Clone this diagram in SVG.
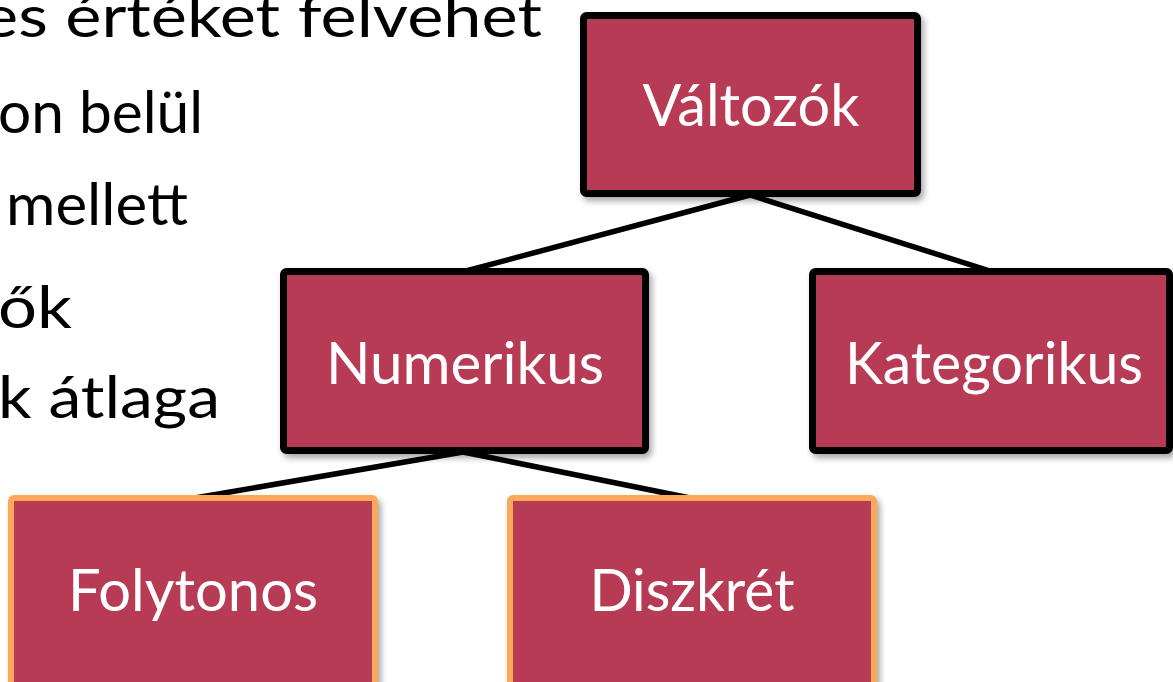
<svg xmlns="http://www.w3.org/2000/svg" width="1173" height="682" viewBox="0 0 1173 682">
  <defs>
    <filter id="shadow" x="-10%" y="-10%" width="125%" height="125%">
      <feDropShadow dx="3" dy="4" stdDeviation="3" flood-color="#000" flood-opacity="0.35"/>
    </filter>
  </defs>
  <style>
    .bullet { font-family: Lato, "Open Sans", "Liberation Sans", sans-serif; font-size: 59px; fill: #000; text-anchor: end; }
    .box { fill: #B83A55; filter: url(#shadow); }
    .dark { stroke: #000; stroke-width: 7; }
    .light { stroke: #FBA85A; stroke-width: 6; }
    .label { font-family: Lato, "Open Sans", "Liberation Sans", sans-serif; font-size: 58px; fill: #fff; text-anchor: middle; }
    .conn { stroke: #000; stroke-width: 5.5; fill: none; }
  </style>
  <rect width="1173" height="682" fill="#fff"/>

  <g id="bullets">
    <text class="bullet" x="542" y="37" textLength="560" lengthAdjust="spacingAndGlyphs">es értéket felvehet</text>
    <text class="bullet" x="203" y="133" textLength="205" lengthAdjust="spacingAndGlyphs">on belül</text>
    <text class="bullet" x="188" y="225" textLength="182" lengthAdjust="spacingAndGlyphs">mellett</text>
    <text class="bullet" x="72" y="328" textLength="74" lengthAdjust="spacingAndGlyphs">ők</text>
    <text class="bullet" x="220" y="418" textLength="222" lengthAdjust="spacingAndGlyphs">k átlaga</text>
  </g>

  <g id="connectors">
    <line class="conn" x1="750" y1="195" x2="466" y2="271"/>
    <line class="conn" x1="750" y1="195" x2="990" y2="271"/>
    <line class="conn" x1="463" y1="452" x2="195" y2="498"/>
    <line class="conn" x1="463" y1="452" x2="690" y2="498"/>
  </g>

  <g id="valtozok">
    <rect class="box dark" x="583.5" y="15.5" width="334" height="178" rx="3"/>
    <text class="label" x="751" y="126" textLength="217" lengthAdjust="spacingAndGlyphs">Változók</text>
  </g>

  <g id="numerikus">
    <rect class="box dark" x="283.5" y="271.5" width="362" height="179" rx="3"/>
    <text class="label" x="465" y="384" textLength="278" lengthAdjust="spacingAndGlyphs">Numerikus</text>
  </g>

  <g id="kategorikus">
    <rect class="box dark" x="812.5" y="271.5" width="357" height="179" rx="3"/>
    <text class="label" x="994" y="384" textLength="298" lengthAdjust="spacingAndGlyphs">Kategorikus</text>
  </g>

  <g id="folytonos">
    <rect class="box light" x="11" y="498" width="364" height="200" rx="3"/>
    <text class="label" x="193" y="611" textLength="250" lengthAdjust="spacingAndGlyphs">Folytonos</text>
  </g>

  <g id="diszkret">
    <rect class="box light" x="510" y="498" width="364" height="200" rx="3"/>
    <text class="label" x="692" y="611" textLength="205" lengthAdjust="spacingAndGlyphs">Diszkrét</text>
  </g>
</svg>
